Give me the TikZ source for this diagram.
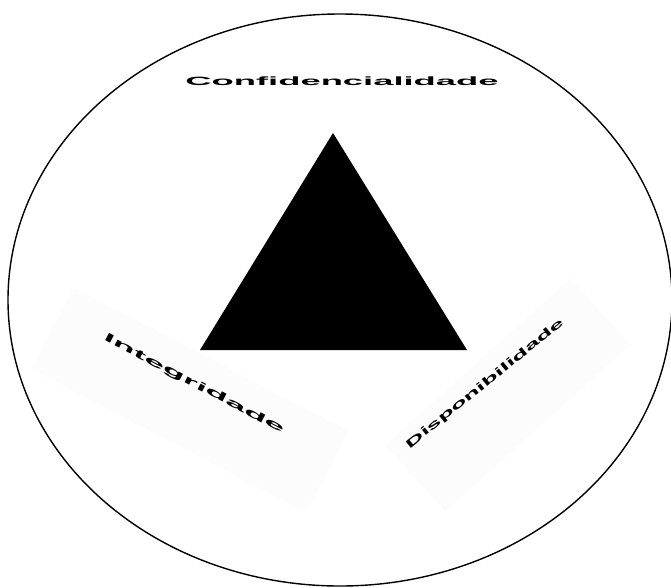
\documentclass[tikz,border=0pt]{standalone}
\usepackage{fontspec}
\setmainfont{Liberation Sans}
\usetikzlibrary{shapes.geometric}
\definecolor{faint}{RGB}{252,252,252}
\tikzset{
  lbl/.style={font=\bfseries\fontsize{12}{14}\selectfont, inner sep=0pt, anchor=center},
  shade/.style={fill=faint, draw=none}
}
\begin{document}
\begin{tikzpicture}[x=1pt,y=-1pt]
\useasboundingbox[fill=white] (0,0) rectangle (671,587);
% outer ellipse
\draw[line width=1.4pt] (340,300) ellipse [x radius=332, y radius=286];
% faint rotated panels
\node[shade, minimum width=309, minimum height=92, rotate=-27.6] (pI) at (190,400) {};
\node[shade, minimum width=249, minimum height=89, rotate=42] (pD) at (508,395) {};
% triangle
\coordinate (apex) at (333,133);
\coordinate (bl) at (200,350);
\coordinate (br) at (467,350);
\fill (apex) -- (bl) -- (br) -- cycle;
% labels
\node[lbl] (conf) at (342,81) {\scalebox{3.03}[1]{Confidencialidade}};
\node[lbl, rotate=-27.6] (integ) at (194,384) {\scalebox{3.12}[1]{Integridade}};
\node[lbl, rotate=39] (disp) at (485,384) {\scalebox{2.23}[1]{Disponibilidade}};
\end{tikzpicture}
\end{document}
